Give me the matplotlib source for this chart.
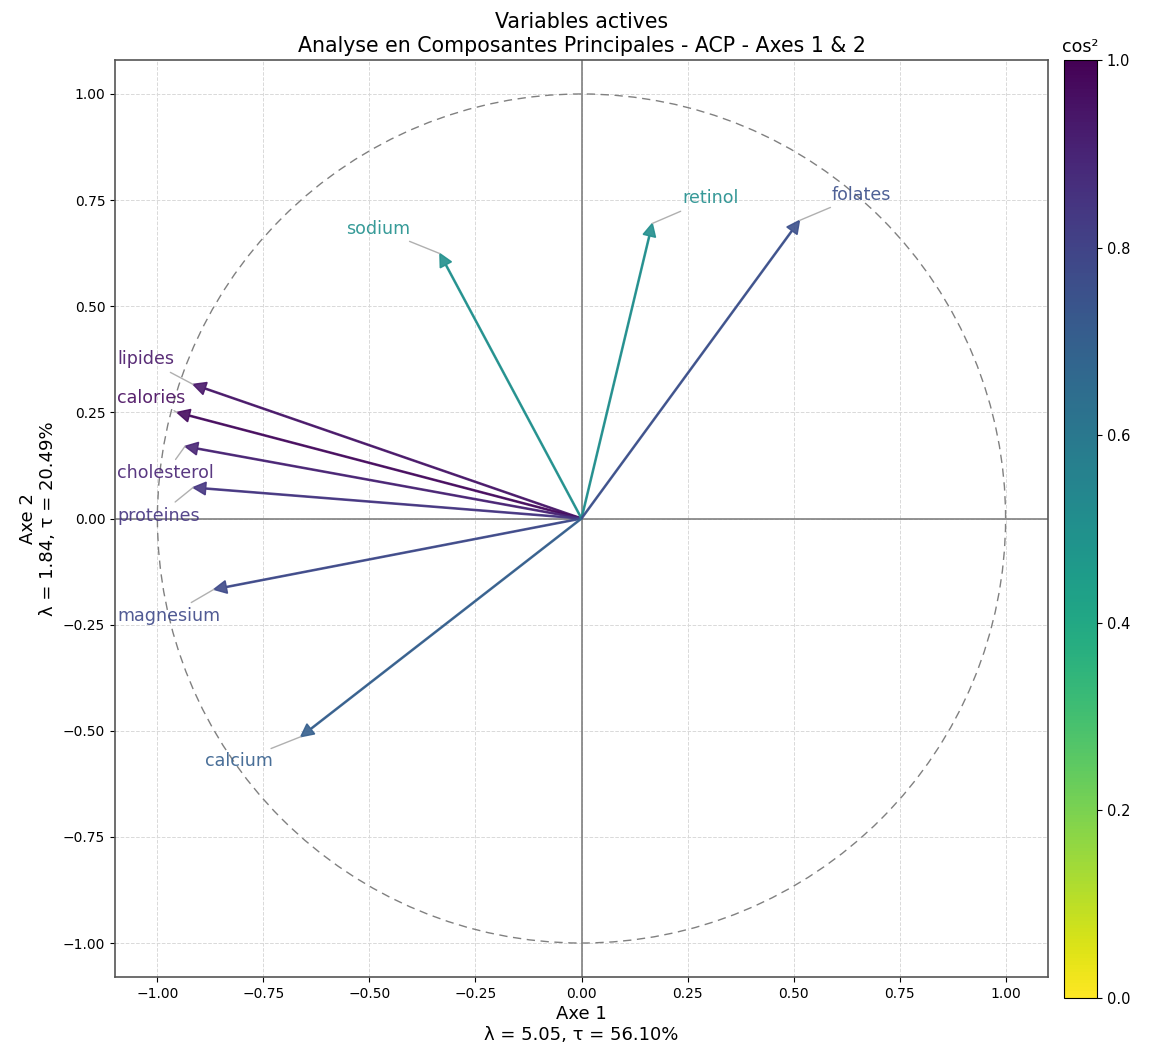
import numpy as np
import matplotlib
matplotlib.use("Agg")
import matplotlib.pyplot as plt
from matplotlib.patches import Circle
from matplotlib import cm, colors

variables = ["lipides", "calories", "cholesterol", "proteines", "magnesium",
             "calcium", "sodium", "retinol", "folates"]
coord1 = [-0.916, -0.954, -0.935, -0.916, -0.867, -0.662, -0.334, 0.167, 0.514]
coord2 = [0.316, 0.250, 0.170, 0.073, -0.167, -0.514, 0.624, 0.695, 0.702]
label_x = [-1.095, -1.095, -1.095, -1.095, -1.095, -0.888, -0.556, 0.238, 0.589]
label_y = [0.375, 0.285, 0.106, 0.007, -0.229, -0.572, 0.683, 0.754, 0.763]

cos2 = [a * a + b * b for a, b in zip(coord1, coord2)]

fig = plt.figure(figsize=(11.58, 10.5), dpi=100)
W, H = 1158, 1050
ax = fig.add_axes([115 / W, 1 - 977 / H, (1048 - 115) / W, (977 - 60) / H])
cax = fig.add_axes([1064 / W, 1 - 998 / H, (1097 - 1064) / W, (998 - 60) / H])

cmap = plt.get_cmap("viridis_r")
norm = colors.Normalize(vmin=0, vmax=1)

ax.set_axisbelow(True)
ax.grid(True, linestyle="--", color="#d9d9d9", linewidth=0.7)
ax.axhline(0, color="grey", linewidth=1.2, zorder=1)
ax.axvline(0, color="grey", linewidth=1.2, zorder=1)
ax.add_patch(Circle((0, 0), 1, fill=False, linestyle=(0, (6, 4)), edgecolor="grey", linewidth=1))

for name, x, y, c, lx, ly in zip(variables, coord1, coord2, cos2, label_x, label_y):
    col = cmap(norm(c))
    ax.arrow(0, 0, x, y, color=col, width=0.0028, head_width=0.03, head_length=0.03,
             length_includes_head=True, alpha=0.9, zorder=3)
    ax.annotate(name, xy=(x, y), xytext=(lx, ly), ha="left", va="center", fontsize=12.6,
                color=col, alpha=0.9,
                arrowprops=dict(arrowstyle="-", color="#b0b0b0", lw=1, shrinkA=2, shrinkB=0))

ax.set_xlim(-1.1, 1.1)
ax.set_ylim(-1.08, 1.08)
ticks = [-1.0, -0.75, -0.5, -0.25, 0.0, 0.25, 0.5, 0.75, 1.0]
ax.set_xticks(ticks)
ax.set_yticks(ticks)
ax.set_xticklabels([f"{t:.2f}".replace("-", "\u2212") for t in ticks], fontsize=10)
ax.set_yticklabels([f"{t:.2f}".replace("-", "\u2212") for t in ticks], fontsize=10)
for s in ax.spines.values():
    s.set_color("#555555")
    s.set_linewidth(1.2)

ax.set_xlabel("Axe 1\n\u03bb = 5.05, \u03c4 = 56.10%", fontsize=13, labelpad=3)
ax.set_ylabel("Axe 2\n\u03bb = 1.84, \u03c4 = 20.49%", fontsize=13)
ax.set_title("Variables actives\nAnalyse en Composantes Principales - ACP - Axes 1 & 2", fontsize=14.8)

sm = cm.ScalarMappable(norm=norm, cmap=cmap)
cb = fig.colorbar(sm, cax=cax)
cb.ax.tick_params(labelsize=10.5)
cb.ax.set_title("cos\u00b2", fontsize=12.5)

fig.savefig("out.png", dpi=100)
